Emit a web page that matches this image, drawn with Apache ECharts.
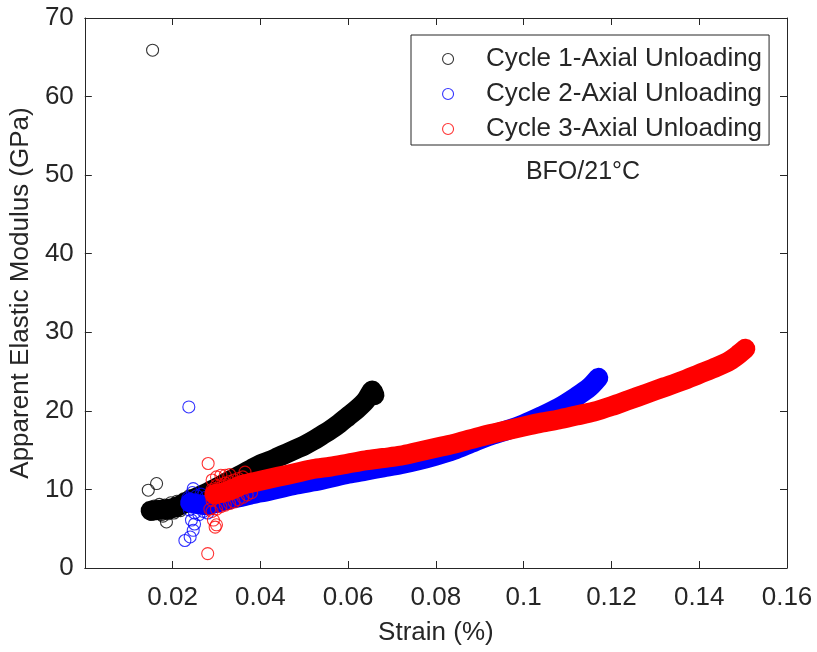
<!DOCTYPE html>
<html>
<head>
<meta charset="utf-8">
<script src="https://cdn.jsdelivr.net/npm/echarts@6/dist/echarts.min.js"></script>
<style>
html,body{margin:0;padding:0;background:#fff;}
#chart{width:817px;height:652px;}
</style>
</head>
<body>
<div id="chart"></div>
<script>
// ---------- data ----------
var seriesNames = ['Cycle 1-Axial Unloading', 'Cycle 2-Axial Unloading', 'Cycle 3-Axial Unloading'];
var seriesColors = ['#000000', '#0000ff', '#ff0000'];

var xTickValues = [0.02, 0.04, 0.06, 0.08, 0.1, 0.12, 0.14, 0.16];
var xTickLabels = ['0.02', '0.04', '0.06', '0.08', '0.1', '0.12', '0.14', '0.16'];
var yTickLabels = ['0', '10', '20', '30', '40', '50', '60', '70'];

// Cycle 1: scattered points at low strain
var cycle1Scatter = [
  [0.01544, 65.9], [0.01446, 9.9], [0.01635, 10.75], [0.0186, 5.86], [0.0178, 6.6],
  [0.0146, 7.3], [0.0152, 6.8], [0.0158, 7.9], [0.0165, 7.0], [0.0170, 8.1],
  [0.0175, 6.8], [0.0182, 8.0], [0.0190, 6.9], [0.0196, 8.3], [0.0203, 7.0],
  [0.0210, 8.5], [0.0218, 7.3], [0.0225, 8.8], [0.0232, 7.8], [0.0238, 9.2]
];
// Cycle 1: dense band (centre of the overlapping markers)
var cycle1Band = [
  [0.0150, 7.3], [0.0170, 7.4], [0.0190, 7.5], [0.0210, 7.8], [0.0225, 8.2],
  [0.024, 8.6], [0.026, 9.1], [0.028, 9.6], [0.030, 10.2], [0.032, 10.8],
  [0.034, 11.4], [0.036, 12.0], [0.038, 12.6], [0.040, 13.2], [0.042, 13.6],
  [0.044, 14.1], [0.046, 14.6], [0.048, 15.1], [0.050, 15.6], [0.052, 16.2],
  [0.054, 16.9], [0.056, 17.6], [0.058, 18.4], [0.060, 19.3], [0.062, 20.2],
  [0.064, 21.3], [0.065, 22.2], [0.0655, 22.6], [0.066, 22.0]
];

var cycle2Scatter = [
  [0.0237, 20.5], [0.0247, 10.1], [0.0243, 6.1], [0.0247, 4.8], [0.0228, 3.5],
  [0.0240, 3.95], [0.0250, 5.6],
  [0.0235, 8.9], [0.0238, 7.4], [0.0245, 9.6], [0.0250, 7.0], [0.0255, 9.2],
  [0.0260, 6.8], [0.0265, 9.4], [0.0270, 7.2], [0.0275, 9.0], [0.0280, 7.0]
];
var cycle2Band = [
  [0.0240, 8.3], [0.0260, 8.1], [0.028, 8.0], [0.030, 8.3], [0.032, 8.6],
  [0.034, 8.9], [0.036, 9.1], [0.038, 9.4], [0.040, 9.6], [0.044, 10.1],
  [0.048, 10.6], [0.052, 11.0], [0.056, 11.5], [0.060, 12.0], [0.064, 12.4],
  [0.068, 12.8], [0.072, 13.2], [0.076, 13.7], [0.080, 14.3], [0.084, 15.0],
  [0.088, 15.9], [0.092, 16.8], [0.096, 17.5], [0.100, 18.3], [0.104, 19.3],
  [0.108, 20.4], [0.112, 21.8], [0.115, 23.0], [0.117, 24.2]
];

var cycle3Scatter = [
  [0.0281, 13.3], [0.0280, 1.83], [0.0297, 5.2], [0.0293, 6.1], [0.0300, 5.5],
  [0.0285, 7.5], [0.0365, 12.2],
  [0.0290, 7.2], [0.0290, 8.6], [0.0290, 10.0], [0.0290, 11.2],
  [0.0300, 7.5], [0.0300, 9.0], [0.0300, 10.5], [0.0300, 11.6],
  [0.0310, 7.8], [0.0310, 9.2], [0.0310, 10.6], [0.0310, 11.8],
  [0.0320, 8.0], [0.0320, 9.4], [0.0320, 10.8], [0.0320, 11.8],
  [0.0330, 8.2], [0.0330, 9.6], [0.0330, 11.0], [0.0330, 11.9],
  [0.0340, 8.4], [0.0340, 9.8], [0.0340, 11.2],
  [0.0350, 8.7], [0.0350, 10.0], [0.0350, 11.4],
  [0.0360, 9.0], [0.0360, 10.3], [0.0360, 11.6],
  [0.0370, 9.3], [0.0370, 10.6], [0.0380, 9.6]
];
var cycle3Band = [
  [0.0295, 9.4], [0.032, 9.7], [0.034, 10.1], [0.036, 10.6], [0.040, 11.1],
  [0.044, 11.6], [0.048, 12.1], [0.052, 12.6], [0.056, 12.9], [0.060, 13.3],
  [0.064, 13.7], [0.068, 14.0], [0.072, 14.3], [0.076, 14.8], [0.080, 15.3],
  [0.084, 15.8], [0.088, 16.4], [0.092, 17.0], [0.096, 17.5], [0.100, 18.0],
  [0.104, 18.5], [0.108, 18.9], [0.112, 19.4], [0.116, 19.9], [0.120, 20.6],
  [0.124, 21.4], [0.128, 22.2], [0.132, 23.0], [0.136, 23.8], [0.140, 24.7],
  [0.144, 25.6], [0.147, 26.4], [0.149, 27.2], [0.1505, 27.9]
];

var annotationText = 'BFO/21°C';

// ---------- chart ----------
var FONT = "'Liberation Sans', Arial, Helvetica, sans-serif";
var AX = '#262626';

function xLabel(v) {
  for (var i = 0; i < xTickValues.length; i++) {
    if (Math.abs(v - xTickValues[i]) < 1e-9) return xTickLabels[i];
  }
  return '';
}
function yLabel(v) {
  var idx = Math.round(v / 10);
  return yTickLabels[idx] !== undefined ? yTickLabels[idx] : '';
}

var scatterSets = [cycle1Scatter, cycle2Scatter, cycle3Scatter];
var bandSets = [cycle1Band, cycle2Band, cycle3Band];

var series = [];
for (var s = 0; s < 3; s++) {
  series.push({
    name: 'band' + s,
    type: 'line',
    data: bandSets[s],
    showSymbol: false,
    symbol: 'none',
    smooth: 0.3,
    silent: true,
    lineStyle: { color: seriesColors[s], width: 20, cap: 'round', join: 'round' },
    z: 2 + s * 0.01
  });
  series.push({
    name: seriesNames[s],
    type: 'scatter',
    data: scatterSets[s].concat(bandSets[s]),
    symbol: 'circle',
    symbolSize: 12,
    itemStyle: { color: 'transparent', borderColor: seriesColors[s], borderWidth: 1.1 },
    z: 2 + s * 0.01 + 0.005
  });
}

var chart = echarts.init(document.getElementById('chart'), null, { renderer: 'canvas' });
chart.setOption({
  animation: false,
  backgroundColor: '#ffffff',
  textStyle: { fontFamily: FONT },
  grid: { left: 84, top: 18, right: 30, bottom: 84, containLabel: false },
  xAxis: [
    {
      type: 'value', position: 'bottom', min: 0, max: 0.16, interval: 0.02,
      axisLine: { show: true, onZero: false, lineStyle: { color: AX, width: 1 } },
      axisTick: { show: true, inside: true, length: 7, lineStyle: { color: AX } },
      axisLabel: { show: true, fontSize: 26, color: AX, fontFamily: FONT, margin: 17,
                   showMinLabel: true, showMaxLabel: true, formatter: xLabel },
      splitLine: { show: false },
      name: 'Strain (%)', nameLocation: 'middle', nameGap: 52,
      nameTextStyle: { fontSize: 26, color: AX, fontFamily: FONT }
    },
    {
      type: 'value', position: 'top', min: 0, max: 0.16, interval: 0.02,
      axisLine: { show: true, onZero: false, lineStyle: { color: AX, width: 1 } },
      axisTick: { show: true, inside: true, length: 7, lineStyle: { color: AX } },
      axisLabel: { show: false }, splitLine: { show: false }
    }
  ],
  yAxis: [
    {
      type: 'value', position: 'left', min: 0, max: 70, interval: 10,
      axisLine: { show: true, onZero: false, lineStyle: { color: AX, width: 1 } },
      axisTick: { show: true, inside: true, length: 7, lineStyle: { color: AX } },
      axisLabel: { show: true, fontSize: 26, color: AX, fontFamily: FONT, margin: 11,
                   showMinLabel: true, showMaxLabel: true, formatter: yLabel },
      splitLine: { show: false },
      name: 'Apparent Elastic Modulus (GPa)', nameLocation: 'middle', nameGap: 48,
      nameRotate: 90,
      nameTextStyle: { fontSize: 26, color: AX, fontFamily: FONT }
    },
    {
      type: 'value', position: 'right', min: 0, max: 70, interval: 10,
      axisLine: { show: true, onZero: false, lineStyle: { color: AX, width: 1 } },
      axisTick: { show: true, inside: true, length: 7, lineStyle: { color: AX } },
      axisLabel: { show: false }, splitLine: { show: false }
    }
  ],
  legend: {
    orient: 'vertical',
    left: 411, top: 35,
    padding: [11, 7, 3, 31],
    itemGap: 9,
    itemWidth: 66, itemHeight: 11,
    borderColor: AX, borderWidth: 1, borderRadius: 0,
    backgroundColor: '#ffffff',
    selectedMode: false,
    textStyle: { fontSize: 26, color: AX, fontFamily: FONT },
    data: seriesNames.map(function (n, i) {
      return { name: n, icon: 'circle',
               itemStyle: { color: 'transparent', borderColor: seriesColors[i], borderWidth: 1.1 } };
    })
  },
  graphic: [
    {
      type: 'text', x: 583, y: 172, silent: true,
      style: { text: annotationText, fontSize: 25, fontFamily: FONT, fill: AX,
               align: 'center', verticalAlign: 'middle',
               textAlign: 'center', textVerticalAlign: 'middle' }
    }
  ],
  series: series
});
</script>
</body>
</html>
